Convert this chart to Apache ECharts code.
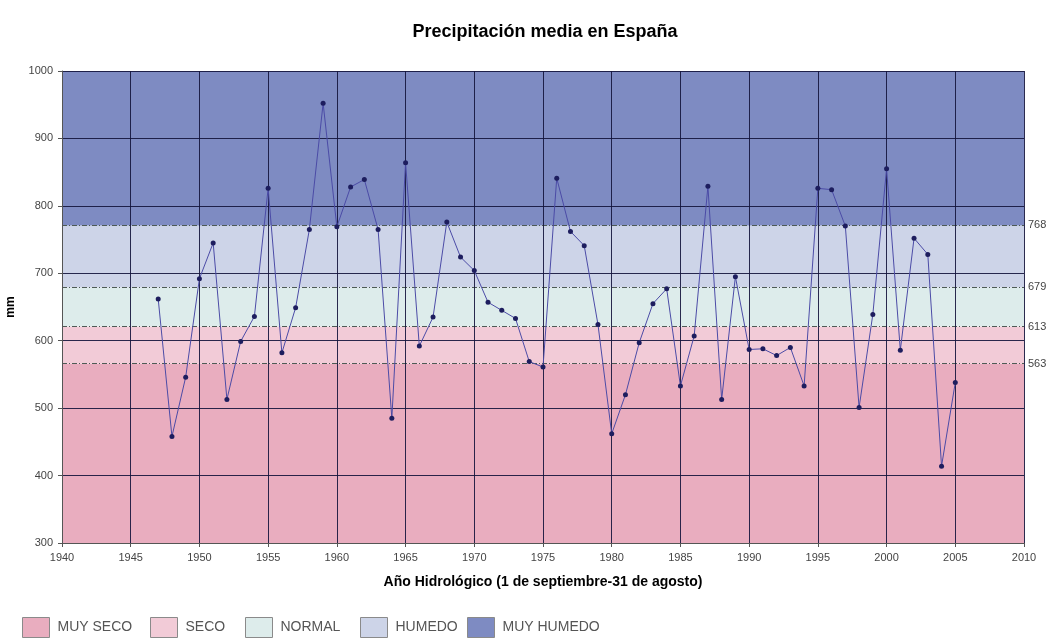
<!DOCTYPE html>
<html>
<head>
<meta charset="utf-8">
<script src="https://cdn.jsdelivr.net/npm/echarts@6/dist/echarts.min.js"></script>
<style>
html,body{margin:0;padding:0;background:#fff;}
#chart{width:1048px;height:638px;}
</style>
</head>
<body>
<div id="chart"></div>
<script>
// ---- data ----
const years = [1947,1948,1949,1950,1951,1952,1953,1954,1955,1956,1957,1958,1959,1960,1961,1962,1963,1964,1965,1966,1967,1968,1969,1970,1971,1972,1973,1974,1975,1976,1977,1978,1979,1980,1981,1982,1983,1984,1985,1986,1987,1988,1989,1990,1991,1992,1993,1994,1995,1996,1997,1998,1999,2000,2001,2002,2003,2004,2005];
const precip = [662,458,546,692,745,513,599,636,826,582,649,765,952,769,828,839,765,485,864,592,635,776,724,704,657,645,633,569,561,841,762,741,624,462,520,597,655,677,533,607,829,513,695,587,588,578,590,533,826,824,770,501,639,855,586,752,728,414,538];
const bandNames = ['MUY SECO','SECO','NORMAL','HUMEDO','MUY HUMEDO'];
const bandLimits = [300,566,621,679,771,1000];   // band edges as drawn (mm)
const thresholdLabels = ['563','613','679','768'];
const bandColors = ['#e9adbf','#f2cbd7','#ddeceb','#cdd4e8','#7e8bc2'];
const legendLeft = [22,150,245,360,467];

const chart = echarts.init(document.getElementById('chart'));
const FONT = 'Liberation Sans, Arial, sans-serif';

const bandSeries = bandNames.map((n,i)=>({
  name:n, type:'line', data:[], zlevel:0, z:1,
  itemStyle:{color:bandColors[i]},
  lineStyle:{color:bandColors[i]},
  markArea:{silent:true, itemStyle:{color:bandColors[i]},
    data:[[{yAxis:bandLimits[i]},{yAxis:bandLimits[i+1]}]]}
}));

const thresholdSeries = {
  name:'umbrales', type:'line', data:[], zlevel:2, z:3,
  markLine:{silent:true, symbol:['none','none'],
    lineStyle:{color:'#4d5a55', width:1, type:[5,2,1,2]},
    label:{position:'end', distance:4, color:'#444', fontSize:11, fontFamily:FONT,
      formatter:p=>p.name},
    data: thresholdLabels.map((t,i)=>({name:t, yAxis:bandLimits[i+1]}))
  }
};

const mainSeries = {
  name:'Precipitación', type:'line', zlevel:2, z:5,
  data: years.map((y,i)=>[y,precip[i]]),
  symbol:'circle', symbolSize:5,
  lineStyle:{color:'#4b4ba6', width:1},
  itemStyle:{color:'#1d1d5e'}
};

chart.setOption({
  animation:false,
  backgroundColor:'#fff',
  textStyle:{fontFamily:FONT},
  title:{text:'Precipitación media en España', left:540, textAlign:'center', top:18,
    textStyle:{fontSize:18, fontWeight:'bold', color:'#000', fontFamily:FONT}},
  grid:{left:62, right:24, top:71, bottom:95, outerBoundsMode:'none', containLabel:false},
  legend: bandNames.map((n,i)=>({
    data:[n], left:legendLeft[i], top:617, padding:0, icon:'rect', itemWidth:27, itemHeight:20,
    selectedMode:false, zlevel:2,
    itemStyle:{borderColor:'#8a8a8a', borderWidth:1},
    textStyle:{fontSize:14, color:'#555', fontFamily:FONT, padding:[0,0,0,3]}
  })),
  xAxis:{type:'value', min:1940, max:2010, interval:5, zlevel:1,
    name:'Año Hidrológico (1 de septiembre-31 de agosto)', nameLocation:'middle', nameGap:32,
    nameTextStyle:{fontSize:14, fontWeight:'bold', color:'#000', fontFamily:FONT},
    axisLine:{show:true, lineStyle:{color:'#555'}},
    axisTick:{show:true, length:4, lineStyle:{color:'#555'}},
    axisLabel:{color:'#444', fontSize:11, margin:9, fontFamily:FONT, formatter:v=>String(v)},
    splitLine:{show:true, lineStyle:{color:'rgba(20,20,60,0.9)', width:1}}
  },
  yAxis:{type:'value', min:300, max:1000, interval:100, zlevel:1,
    name:'mm', nameLocation:'middle', nameGap:45, nameRotate:90,
    nameTextStyle:{fontSize:12, fontWeight:'bold', color:'#000', fontFamily:FONT},
    axisLine:{show:true, lineStyle:{color:'#555'}},
    axisTick:{show:true, length:4, lineStyle:{color:'#555'}},
    axisLabel:{color:'#444', fontSize:11, margin:9, fontFamily:FONT, formatter:v=>String(v)},
    splitLine:{show:true, lineStyle:{color:'rgba(20,20,60,0.9)', width:1}}
  },
  series:[...bandSeries, thresholdSeries, mainSeries]
});
</script>
</body>
</html>
